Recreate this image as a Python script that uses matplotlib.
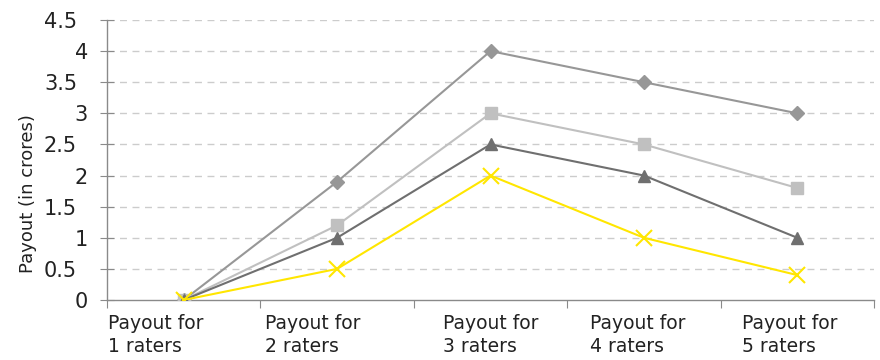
import matplotlib
matplotlib.use("Agg")
import matplotlib.pyplot as plt
import matplotlib.transforms as mtransforms
import numpy as np

categories = ["Payout for\n1 raters", "Payout for\n2 raters", "Payout for\n3 raters",
              "Payout for\n4 raters", "Payout for\n5 raters"]
series_diamond = [0, 1.9, 4, 3.5, 3]
series_square = [0, 1.2, 3, 2.5, 1.8]
series_triangle = [0, 1, 2.5, 2, 1]
series_cross = [0, 0.5, 2, 1, 0.4]
y_ticks = [0, 0.5, 1, 1.5, 2, 2.5, 3, 3.5, 4, 4.5]
y_tick_labels = ["0", "0.5", "1", "1.5", "2", "2.5", "3", "3.5", "4", "4.5"]

plt.rcParams["font.family"] = ["DejaVu Sans"]
TEXT = "#222222"
AXIS = "#8a8a8a"

fig = plt.figure(figsize=(8.8, 3.6), dpi=100)
ax = fig.add_axes([0.1216, 0.1667, 0.8716, 0.7778])

x = np.arange(len(categories))

ax.plot(x, series_diamond, color="#979797", lw=1.5, marker="D", ms=7.5, zorder=3)
ax.plot(x, series_square, color="#c0c0c0", lw=1.5, marker="s", ms=8.5, zorder=3)
ax.plot(x, series_triangle, color="#6f6f6f", lw=1.5, marker="^", ms=9, zorder=3)
ax.plot(x, series_cross, color="#ffe600", lw=1.5, marker="x", ms=11, mew=1.5, zorder=4)

ax.set_xlim(-0.5, len(categories) - 0.5)
ax.set_ylim(0, 4.5)

for yv in y_ticks[1:]:
    ax.axhline(yv, color="#cccccc", lw=1, ls=(0, (5, 4)), zorder=1)

# y ticks cross the axis line; labels drawn separately
ax.set_yticks(y_ticks)
ax.set_yticklabels([])
ax.tick_params(axis="y", direction="inout", length=10, color=AXIS)

def px_offset(dx, dy=0):
    return mtransforms.ScaledTranslation(dx / 100, dy / 100, fig.dpi_scale_trans)

for yv, lab in zip(y_ticks, y_tick_labels):
    shift = -30 if "." in lab else -19
    tr = ax.get_yaxis_transform() + px_offset(shift, -2)
    ax.text(0, yv, lab, transform=tr, ha="right", va="center",
            fontsize=15, color=TEXT)

# category boundaries get the tick marks, labels sit under the categories
ax.set_xticks(np.arange(len(categories) + 1) - 0.5)
ax.set_xticklabels([])
ax.tick_params(axis="x", direction="out", length=6, color=AXIS)

label_left_px = [-76, -72, -48, -54, -55]
for i, lab in enumerate(categories):
    tr = ax.get_xaxis_transform() + px_offset(label_left_px[i], -14)
    ax.text(i, 0, lab, transform=tr, ha="left", va="top", fontsize=13.5,
            color=TEXT, linespacing=1.3)

for s in ["top", "right"]:
    ax.spines[s].set_visible(False)
for s in ["left", "bottom"]:
    ax.spines[s].set_color(AXIS)
    ax.spines[s].set_linewidth(1)

fig.text(0.032, 0.461, "Payout (in crores)", rotation=90, ha="center", va="center",
         fontsize=13, color=TEXT)

fig.savefig("out.png", dpi=100)
